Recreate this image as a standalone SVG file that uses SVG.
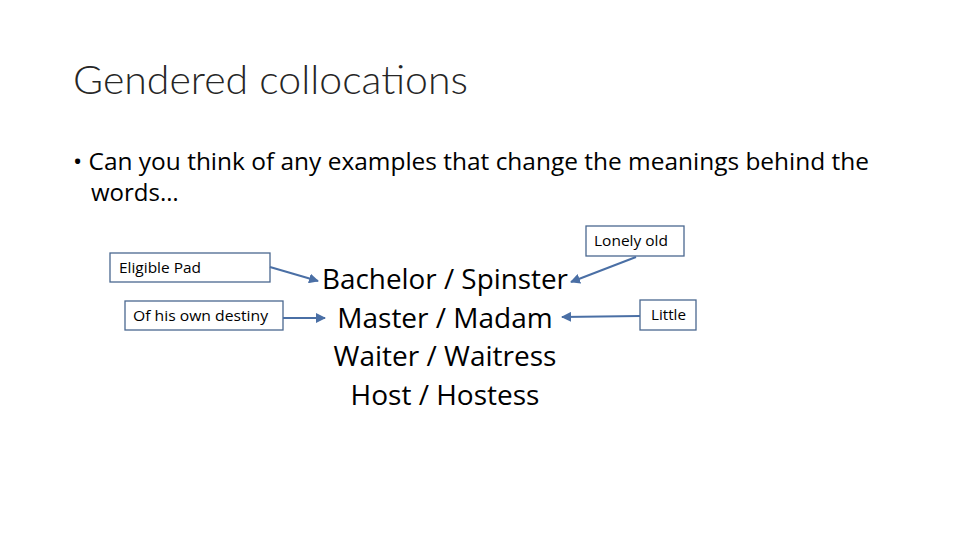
<svg xmlns="http://www.w3.org/2000/svg" width="960" height="540" viewBox="0 0 960 540">
<defs>
<style>
.t{font-family:"Open Sans","Liberation Sans",sans-serif;fill:#000}
.title{font-family:Lato,"Open Sans",sans-serif;font-weight:300;font-size:40px;fill:#262626}
.body{font-size:24px}
.mid{font-size:28px;text-anchor:middle}
.box{fill:#fff;stroke:#4a6890;stroke-width:1.3}
.lab{font-size:15px}
.con{stroke:#4a6fa5;stroke-width:2;fill:none;marker-end:url(#ah)}
</style>
<marker id="ah" viewBox="0 0 10 10" refX="9" refY="5" markerWidth="5" markerHeight="5" orient="auto">
<path d="M0,0 L10,5 L0,10 z" fill="#4a6fa5"/>
</marker>
</defs>
<rect width="960" height="540" fill="#fff"/>
<text class="title" x="73" y="94" textLength="395" lengthAdjust="spacingAndGlyphs">Gendered collocations</text>
<text class="t body" x="73" y="170" textLength="796" lengthAdjust="spacingAndGlyphs">• Can you think of any examples that change the meanings behind the</text>
<text class="t body" x="91" y="201">words…</text>
<g id="center">
<text class="t mid" x="445" y="289" textLength="246" lengthAdjust="spacingAndGlyphs">Bachelor / Spinster</text>
<text class="t mid" x="445" y="328">Master / Madam</text>
<text class="t mid" x="445" y="366">Waiter / Waitress</text>
<text class="t mid" x="445" y="405">Host / Hostess</text>
</g>
<g id="n1"><rect class="box" x="110" y="253" width="160" height="29"/><text class="t lab" x="119" y="273" textLength="82" lengthAdjust="spacingAndGlyphs">Eligible Pad</text></g>
<g id="n2"><rect class="box" x="125" y="301" width="158" height="29"/><text class="t lab" x="133" y="321" textLength="135" lengthAdjust="spacingAndGlyphs">Of his own destiny</text></g>
<g id="n3"><rect class="box" x="586" y="226" width="98" height="30"/><text class="t lab" x="594" y="246" textLength="74" lengthAdjust="spacingAndGlyphs">Lonely old</text></g>
<g id="n4"><rect class="box" x="640" y="300" width="56" height="30"/><text class="t lab" x="651" y="320" textLength="35" lengthAdjust="spacingAndGlyphs">Little</text></g>
<g id="connectors">
<path class="con" d="M270,267 L318,281"/>
<path class="con" d="M283,318 L325,318"/>
<path class="con" d="M636,257 L571,282"/>
<path class="con" d="M640,316 L562,317"/>
</g>
</svg>
